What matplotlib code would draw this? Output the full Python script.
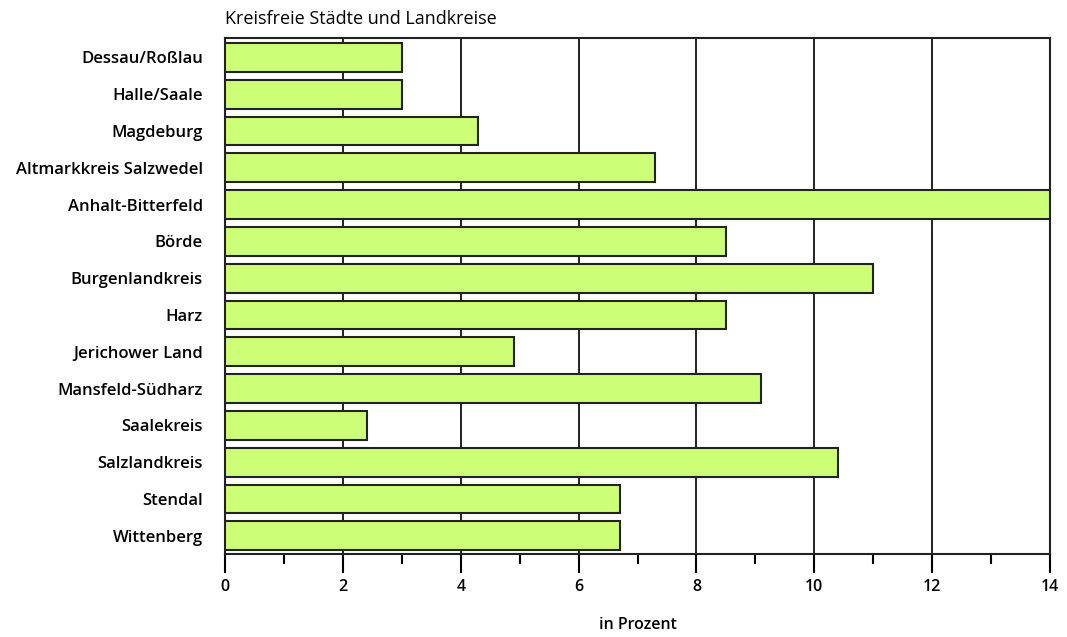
import matplotlib.pyplot as plt
from matplotlib.ticker import MultipleLocator

# Daten
kreise = ['Dessau/Roßlau', 'Halle/Saale', 'Magdeburg', 'Altmarkkreis Salzwedel',
          'Anhalt-Bitterfeld', 'Börde', 'Burgenlandkreis', 'Harz',
          'Jerichower Land', 'Mansfeld-Südharz', 'Saalekreis', 'Salzlandkreis',
          'Stendal', 'Wittenberg']
prozent = [3.0, 3.0, 4.3, 7.3, 14.0, 8.5, 11.0, 8.5, 4.9, 9.1, 2.4, 10.4, 6.7, 6.7]

plt.rcParams['font.family'] = ['Open Sans', 'DejaVu Sans']

fig = plt.figure(figsize=(10.67, 6.37), dpi=100)
ax = fig.add_axes([0.211, 0.130, 0.773, 0.810])

pos = list(range(len(kreise)))
ax.barh(pos, prozent, height=0.78, color='#ccff77', edgecolor='#222222',
        linewidth=1.5, zorder=3)

ax.set_xlim(0, 14)
ax.set_ylim(len(kreise) - 0.5, -0.52)
ax.set_yticks(pos)
ax.set_yticklabels(kreise, fontsize=12, fontweight='semibold')
ax.tick_params(axis='y', length=0, pad=16)

ax.xaxis.set_major_locator(MultipleLocator(2))
ax.xaxis.set_minor_locator(MultipleLocator(1))
ax.tick_params(axis='x', which='major', length=14, width=1.5, pad=4)
for lbl in ax.get_xticklabels():
    lbl.set_fontsize(11.5)
    lbl.set_fontweight('semibold')
ax.tick_params(axis='x', which='minor', length=7, width=1.5)
ax.grid(axis='x', which='major', color='#111111', linewidth=1.3, zorder=0)

for s in ax.spines.values():
    s.set_linewidth(1.5)
    s.set_color('#222222')

ax.text(0, 1.02, 'Kreisfreie Städte und Landkreise', transform=ax.transAxes,
        fontsize=13, fontweight='medium', ha='left', va='bottom')
ax.set_xlabel('in Prozent', fontsize=11.5, fontweight='semibold', labelpad=16)

plt.savefig('out.png', dpi=100)
